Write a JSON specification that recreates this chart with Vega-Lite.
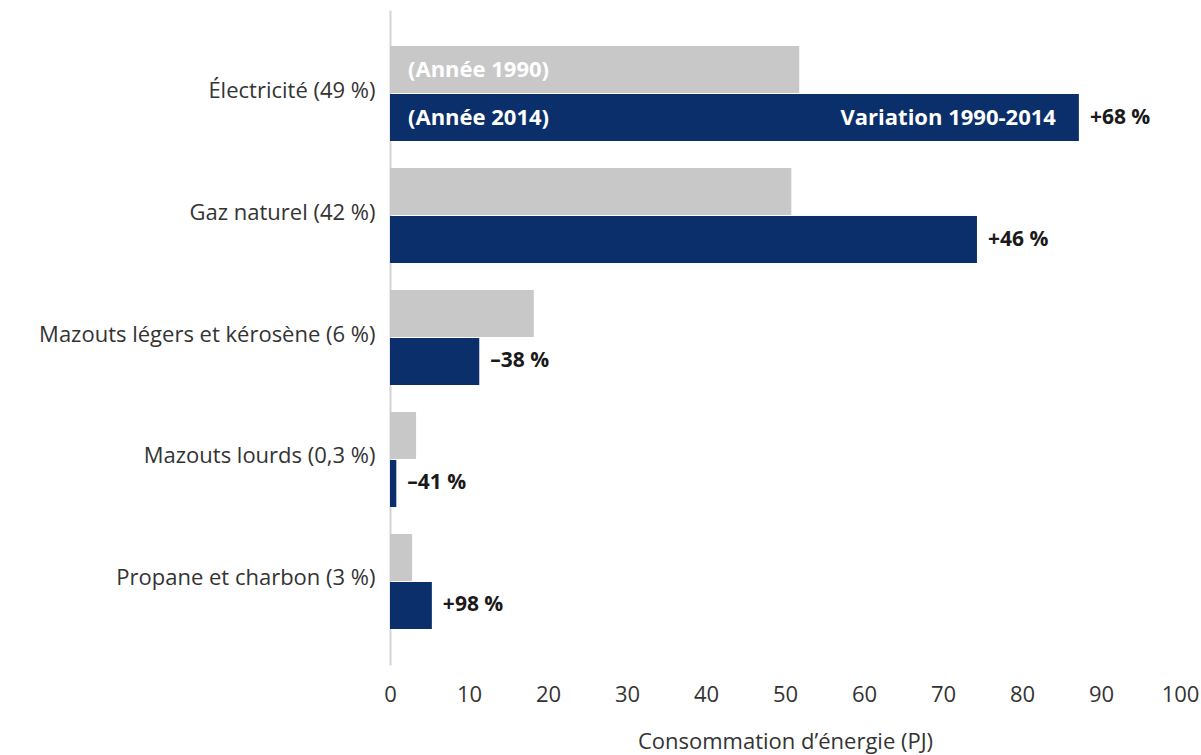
{
  "$schema": "https://vega.github.io/schema/vega-lite/v6.json",
  "autosize": {"type": "none"},
  "width": 790,
  "height": 655,
  "padding": {"left": 390, "top": 10, "right": 21, "bottom": 90},
  "background": "white",
  "config": {
    "view": {"stroke": null},
    "font": "Open Sans",
    "axis": {"labelFont": "Open Sans", "titleFont": "Open Sans", "grid": false}
  },
  "data": {
    "values": [
      {"cat": "Électricité (49 %)", "year": "1990", "value": 51.8, "inner": "(Année 1990)"},
      {"cat": "Électricité (49 %)", "year": "2014", "value": 87.2, "change": "+68 %", "inner": "(Année 2014)", "endnote": "Variation 1990-2014"},
      {"cat": "Gaz naturel (42 %)", "year": "1990", "value": 50.8},
      {"cat": "Gaz naturel (42 %)", "year": "2014", "value": 74.3, "change": "+46 %"},
      {"cat": "Mazouts légers et kérosène (6 %)", "year": "1990", "value": 18.2},
      {"cat": "Mazouts légers et kérosène (6 %)", "year": "2014", "value": 11.3, "change": "–38 %"},
      {"cat": "Mazouts lourds (0,3 %)", "year": "1990", "value": 3.3},
      {"cat": "Mazouts lourds (0,3 %)", "year": "2014", "value": 0.8, "change": "–41 %"},
      {"cat": "Propane et charbon (3 %)", "year": "1990", "value": 2.8},
      {"cat": "Propane et charbon (3 %)", "year": "2014", "value": 5.3, "change": "+98 %"}
    ]
  },
  "encoding": {
    "y": {
      "field": "cat", "type": "nominal", "sort": null,
      "scale": {"paddingInner": 0.221, "paddingOuter": 0.295},
      "axis": {
        "title": null, "ticks": false, "labelFontSize": 22, "labelColor": "#333333",
        "labelPadding": 15, "labelLimit": 400, "domainColor": "#d4d4d4", "domainWidth": 2,
        "labelBaseline": "middle", "labelOffset": -3
      }
    },
    "yOffset": {"field": "year", "type": "nominal", "scale": {"paddingInner": 0.02, "paddingOuter": 0}}
  },
  "layer": [
    {
      "mark": {"type": "bar"},
      "encoding": {
        "x": {
          "field": "value", "type": "quantitative",
          "scale": {"domain": [0, 100], "nice": false},
          "axis": {
            "values": [0, 10, 20, 30, 40, 50, 60, 70, 80, 90, 100],
            "title": "Consommation d’énergie (PJ)", "titleFontSize": 22, "titleColor": "#333333",
            "titleFontWeight": "normal", "titlePadding": 26,
            "labelFontSize": 22, "labelColor": "#333333", "labelPadding": 19,
            "labelFlush": false, "labelOverlap": false,
            "domain": false, "ticks": false
          }
        },
        "color": {
          "field": "year", "type": "nominal",
          "scale": {"domain": ["1990", "2014"], "range": ["#c8c8c8", "#0b2f6a"]},
          "legend": null
        }
      }
    },
    {
      "transform": [{"filter": "datum.change != null"}],
      "mark": {"type": "text", "align": "left", "baseline": "middle", "dx": 11, "fontSize": 21, "fontWeight": "bold", "color": "#1a1a1a"},
      "encoding": {
        "x": {"field": "value", "type": "quantitative"},
        "text": {"field": "change"}
      }
    },
    {
      "transform": [{"filter": "datum.inner != null"}],
      "mark": {"type": "text", "align": "left", "baseline": "middle", "dx": 18, "fontSize": 22, "fontWeight": "bold", "color": "white"},
      "encoding": {
        "x": {"datum": 0},
        "text": {"field": "inner"}
      }
    },
    {
      "transform": [{"filter": "datum.endnote != null"}],
      "mark": {"type": "text", "align": "right", "baseline": "middle", "dx": -23, "fontSize": 22, "fontWeight": "bold", "color": "white"},
      "encoding": {
        "x": {"field": "value", "type": "quantitative"},
        "text": {"field": "endnote"}
      }
    }
  ]
}
